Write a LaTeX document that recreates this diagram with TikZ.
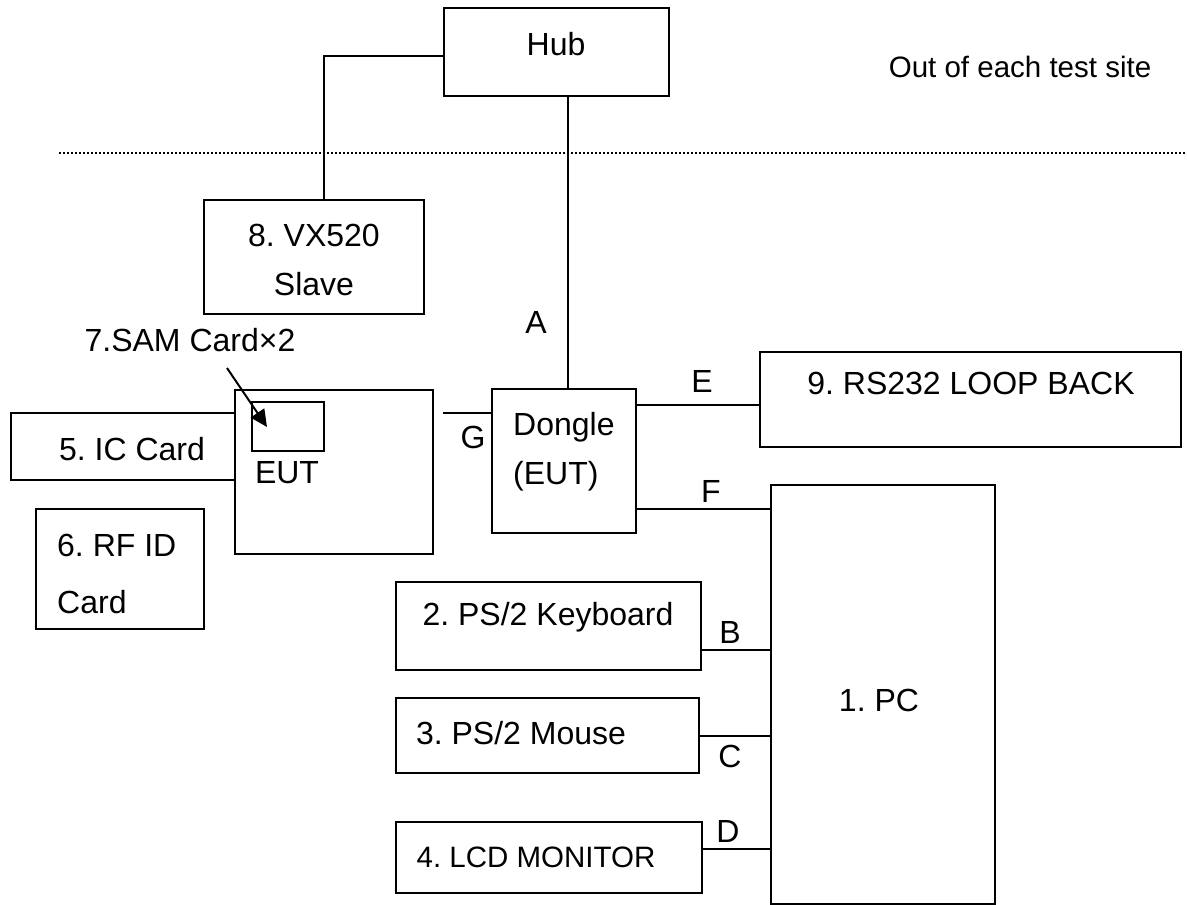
\documentclass[tikz,border=0pt]{standalone}
\usepackage{fontspec}
\setmainfont{Liberation Sans}
\usetikzlibrary{arrows.meta}
\frenchspacing
\begin{document}
\begin{tikzpicture}[x=1pt,y=-1pt,
  box/.style={draw,line width=2pt,inner sep=0pt,outer sep=0pt,rectangle},
  conn/.style={line width=2pt},
  txt/.style={inner sep=0pt,anchor=base,font=\fontsize{32}{38}\selectfont},
  ltxt/.style={txt,anchor=base west},
  stxt/.style={txt,font=\fontsize{29.5}{35}\selectfont},
  sltxt/.style={ltxt,font=\fontsize{29.5}{35}\selectfont}]
\useasboundingbox (0,0) rectangle (1187,905);
% boxes
\node[box,minimum width=225pt,minimum height=88pt] (hub) at (556.5,52) {};
\node[box,minimum width=220pt,minimum height=114pt] (vx) at (314,257) {};
\node[box,minimum width=421pt,minimum height=95pt] (rs) at (970.5,399.5) {};
\node[box,minimum width=224pt,minimum height=67pt] (ic) at (123,446.5) {};
\node[box,minimum width=198pt,minimum height=164pt] (eut) at (334,472) {};
\node[box,minimum width=72pt,minimum height=49pt] (sam) at (288,426.5) {};
\node[box,minimum width=144pt,minimum height=144pt] (dongle) at (564,461) {};
\node[box,minimum width=168pt,minimum height=120pt] (rf) at (120,569) {};
\node[box,minimum width=224pt,minimum height=419pt] (pc) at (883,694.5) {};
\node[box,minimum width=305pt,minimum height=88pt] (kb) at (548.5,626) {};
\node[box,minimum width=303pt,minimum height=75pt] (mouse) at (547.5,735.5) {};
\node[box,minimum width=306pt,minimum height=71pt] (lcd) at (549,857.5) {};
% texts
\node[txt] (thub) at (556,55) {Hub};
\node[stxt] (tout) at (1020,77) {Out of each test site};
\node[txt] (tvx1) at (314,246) {8. VX520};
\node[txt] (tvx2) at (314,295) {Slave};
\node[txt] (ta) at (536,333) {A};
\node[txt] (tsam) at (190,351) {7.SAM Card×2};
\node[txt] (tic) at (132,460) {5. IC Card};
\node[txt] (teut) at (287,483) {EUT};
\node[ltxt] (trf1) at (57,556) {6. RF ID};
\node[ltxt] (trf2) at (57,613) {Card};
\node[txt] (tg) at (473,448) {G};
\node[ltxt] (tdg1) at (513,435) {Dongle};
\node[ltxt] (tdg2) at (513,484) {(EUT)};
\node[txt] (te) at (702,392) {E};
\node[txt] (tf) at (711,502) {F};
\node[txt] (trs) at (971,394) {9. RS232 LOOP BACK};
\node[txt] (tpc) at (879,711) {1. PC};
\node[txt] (tkb) at (548,625) {2. PS/2 Keyboard};
\node[txt] (tb) at (730,643) {B};
\node[txt] (tms) at (521,744) {3. PS/2 Mouse};
\node[txt] (tc) at (730,767) {C};
\node[txt] (td) at (728,842) {D};
\node[stxt] (tlcd) at (536,867) {4. LCD MONITOR};
% dotted boundary
\coordinate (dotL) at (59,153);
\coordinate (dotR) at (1187,153);
\draw[line width=1.8pt,dash pattern=on 1.6pt off 2.4pt] (dotL) -- (dotR);
% connectors
\draw[conn] (hub.west |- 0,56) -| (vx.north -| 324,0);
\draw[conn] (hub.south -| 568,0) -- (dongle.north -| 568,0);
\coordinate (gend) at (443,413);
\draw[conn] (gend) -- (dongle.west |- gend);
\draw[conn] (dongle.east |- 0,405) -- (rs.west |- 0,405);
\draw[conn] (dongle.east |- 0,509) -- (pc.west |- 0,509);
\draw[conn] (kb.east |- 0,650) -- (pc.west |- 0,650);
\draw[conn] (mouse.east |- 0,736) -- (pc.west |- 0,736);
\draw[conn] (lcd.east |- 0,849) -- (pc.west |- 0,849);
% arrow to SAM card
\coordinate (arS) at (227,368);
\coordinate (arE) at (267,427);
\draw[conn,-{Triangle[length=17pt,width=16pt]}] (arS) -- (arE);
\end{tikzpicture}
\end{document}
